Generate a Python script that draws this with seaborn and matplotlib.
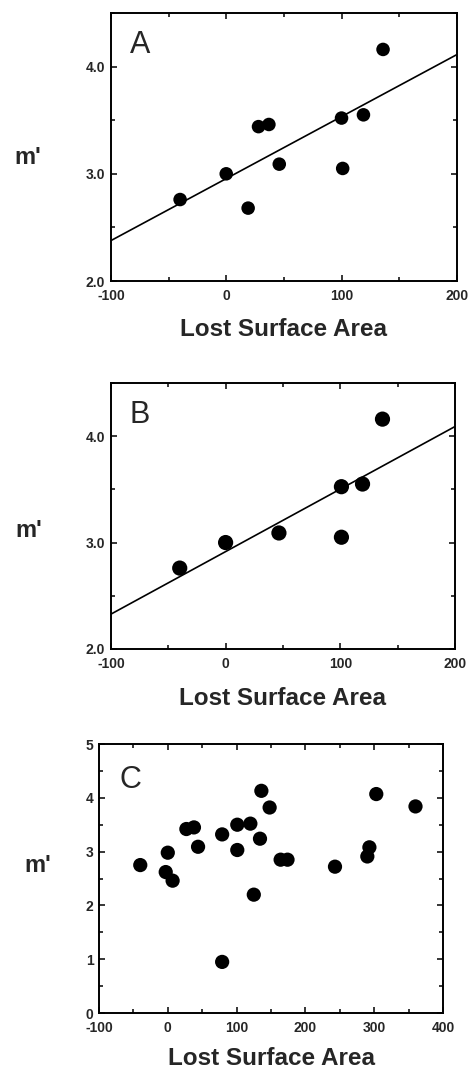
import numpy as np
import pandas as pd
import matplotlib
matplotlib.use('Agg')
import matplotlib.pyplot as plt
from matplotlib.ticker import MultipleLocator, FormatStrFormatter
import seaborn as sns

# panel A data (lost surface area vs m')
a_x = [-40, 0, 19, 28, 37, 46, 100, 101, 119, 136]
a_y = [2.76, 3.00, 2.68, 3.44, 3.46, 3.09, 3.52, 3.05, 3.55, 4.16]

# panel B data
b_x = [-40, 0, 46.5, 101, 101, 119.4, 136.8]
b_y = [2.76, 3.00, 3.09, 3.525, 3.05, 3.55, 4.16]

# panel C data
c_x = [-40, 0, -3, 7, 27, 38, 44, 79, 79, 101, 101, 120, 125, 134, 136,
       148, 164, 174, 243, 290, 293, 303, 360]
c_y = [2.75, 2.98, 2.62, 2.46, 3.42, 3.45, 3.09, 3.32, 0.95, 3.50, 3.03,
       3.52, 2.20, 3.24, 4.13, 3.82, 2.85, 2.85, 2.72, 2.91, 3.08, 4.07, 3.84]

sns.set_style("ticks")
plt.rcParams['font.family'] = ['Liberation Sans', 'DejaVu Sans']
plt.rcParams['axes.unicode_minus'] = False

fig = plt.figure(figsize=(4.70, 10.73), dpi=100)

axA = fig.add_axes([0.236, 0.7381, 0.736, 0.2498])
axB = fig.add_axes([0.236, 0.3952, 0.732, 0.2479])
axC = fig.add_axes([0.2106, 0.0559, 0.732, 0.2507])

dfA = pd.DataFrame({'x': a_x, 'y': a_y})
dfB = pd.DataFrame({'x': b_x, 'y': b_y})
dfC = pd.DataFrame({'x': c_x, 'y': c_y})

# limits first so the fitted line spans the whole axis
for ax in [axA, axB]:
    ax.set_xlim(-100, 200)
    ax.set_ylim(2.0, 4.5)
    ax.xaxis.set_major_locator(MultipleLocator(100))
    ax.xaxis.set_minor_locator(MultipleLocator(50))
    ax.yaxis.set_major_locator(MultipleLocator(1.0))
    ax.yaxis.set_minor_locator(MultipleLocator(0.5))
    ax.yaxis.set_major_formatter(FormatStrFormatter('%.1f'))

axC.set_xlim(-100, 400)
axC.set_ylim(0, 5)
axC.xaxis.set_major_locator(MultipleLocator(100))
axC.xaxis.set_minor_locator(MultipleLocator(50))
axC.yaxis.set_major_locator(MultipleLocator(1))
axC.yaxis.set_minor_locator(MultipleLocator(0.5))

# regression lines for A and B
sns.regplot(data=dfA, x='x', y='y', ax=axA, ci=None, truncate=False,
            scatter=False, line_kws={'color': 'black', 'lw': 1.2})
sns.scatterplot(data=dfA, x='x', y='y', ax=axA, s=95, color='black',
                edgecolor='none', zorder=3)

sns.regplot(data=dfB, x='x', y='y', ax=axB, ci=None, truncate=False,
            scatter=False, line_kws={'color': 'black', 'lw': 1.2})
sns.scatterplot(data=dfB, x='x', y='y', ax=axB, s=120, color='black',
                edgecolor='none', zorder=3)

sns.scatterplot(data=dfC, x='x', y='y', ax=axC, s=105, color='black',
                edgecolor='none', zorder=3)

axA.set_xlim(-100, 200)
axB.set_xlim(-100, 200)
axA.set_ylim(2.0, 4.5)
axB.set_ylim(2.0, 4.5)
axC.set_xlim(-100, 400)
axC.set_ylim(0, 5)

letters = ['A', 'B', 'C']
letter_pos = [(0.055, 0.85), (0.055, 0.85), (0.061, 0.836)]
ylab_pos = [(-0.24, 0.46), (-0.24, 0.447), (-0.177, 0.55)]
xlab_pos = [(0.5, -0.18), (0.5, -0.188), (0.5, -0.17)]

for ax, let, lp, yp, xp in zip([axA, axB, axC], letters, letter_pos, ylab_pos, xlab_pos):
    for sp in ax.spines.values():
        sp.set_visible(True)
        sp.set_linewidth(1.4)
        sp.set_color('black')
    ax.tick_params(which='both', direction='in', top=True, right=True,
                   width=1.1, color='black')
    ax.tick_params(which='major', length=4, labelsize=10)
    ax.tick_params(which='minor', length=3)
    ax.tick_params(axis='x', which='major', pad=6)
    ax.tick_params(axis='y', which='major', pad=4)
    for lab in ax.get_xticklabels() + ax.get_yticklabels():
        lab.set_fontweight('bold')
    ax.set_xlabel('Lost Surface Area', fontsize=17.5, fontweight='bold')
    ax.set_ylabel("m'", fontsize=17, fontweight='bold', rotation=0)
    ax.xaxis.set_label_coords(*xp)
    ax.yaxis.set_label_coords(*yp)
    ax.yaxis.label.set_va('center')
    ax.xaxis.label.set_va('center')
    ax.text(lp[0], lp[1], let, transform=ax.transAxes, fontsize=22,
            va='baseline', ha='left')

fig.savefig('out.png', dpi=100)
